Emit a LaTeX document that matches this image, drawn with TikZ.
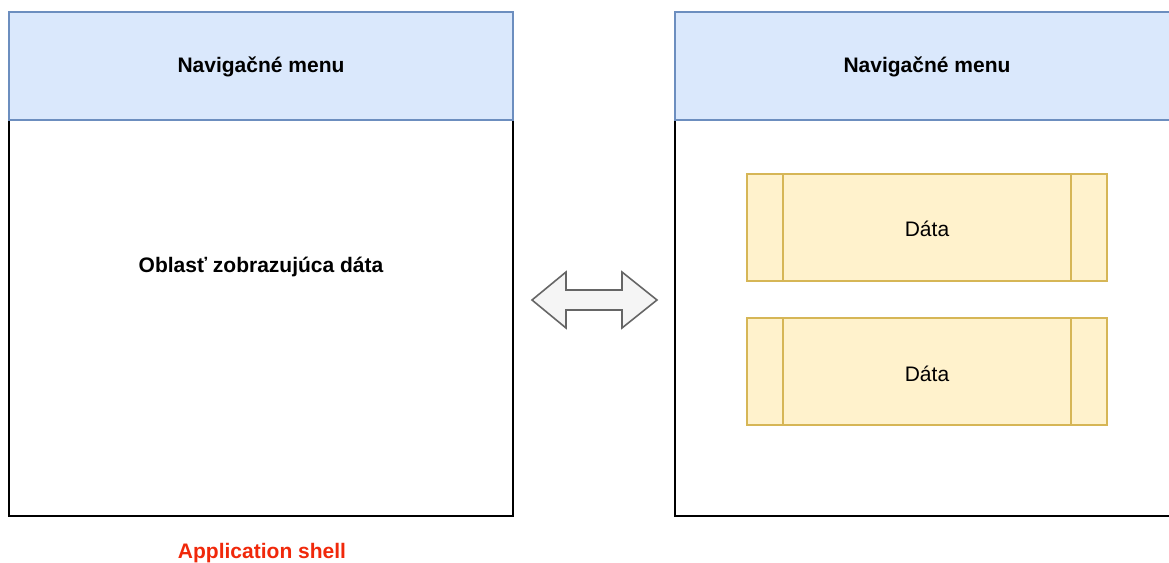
\documentclass[tikz,border=0pt]{standalone}
\usepackage{fontspec}
\setmainfont{Liberation Sans}
\definecolor{navfill}{HTML}{DAE8FC}
\definecolor{navdraw}{HTML}{6C8EBF}
\definecolor{datfill}{HTML}{FFF2CC}
\definecolor{datdraw}{HTML}{D6B656}
\definecolor{arrfill}{HTML}{F5F5F5}
\definecolor{arrdraw}{HTML}{666666}
\definecolor{shellred}{HTML}{F0280A}
\begin{document}
\begin{tikzpicture}[x=1pt,y=-1pt,
  navbox/.style={draw=navdraw,fill=navfill,line width=1.6pt},
  areabox/.style={draw=black,fill=white,line width=1.6pt},
  datbox/.style={draw=datdraw,fill=datfill,line width=1.6pt},
  lbl/.style={font=\fontsize{21}{25}\selectfont,anchor=center,inner sep=0pt},
  blbl/.style={lbl,font=\fontsize{21}{25}\selectfont\bfseries}]
\useasboundingbox (0,0) rectangle (1169,562);
% left screen
\draw[areabox] (9,120) rectangle (513,516);
\draw[navbox] (9,12) rectangle (513,120);
\node[blbl] (nav1) at (261,67) {Navigačné menu};
\node[blbl] (area) at (261,267) {Oblasť zobrazujúca dáta};
\node[blbl,text=shellred] (shell) at (262,553) {Application shell};
% right screen
\draw[areabox] (675,120) rectangle (1185,516);
\draw[navbox] (675,12) rectangle (1185,120);
\node[blbl] (nav2) at (927,67) {Navigačné menu};
% data boxes
\draw[datbox] (747,174) rectangle (1107,281);
\draw[datbox] (783,174) -- (783,281) (1071,174) -- (1071,281);
\node[lbl] (d1) at (927,229) {Dáta};
\draw[datbox] (747,318) rectangle (1107,425);
\draw[datbox] (783,318) -- (783,425) (1071,318) -- (1071,425);
\node[lbl] (d2) at (927,374) {Dáta};
% double arrow
\draw[draw=arrdraw,fill=arrfill,line width=1.6pt,line join=miter]
  (532,300) -- (566,272) -- (566,290) -- (622,290) -- (622,272) -- (657,300)
  -- (622,328) -- (622,310) -- (566,310) -- (566,328) -- cycle;
\end{tikzpicture}
\end{document}
